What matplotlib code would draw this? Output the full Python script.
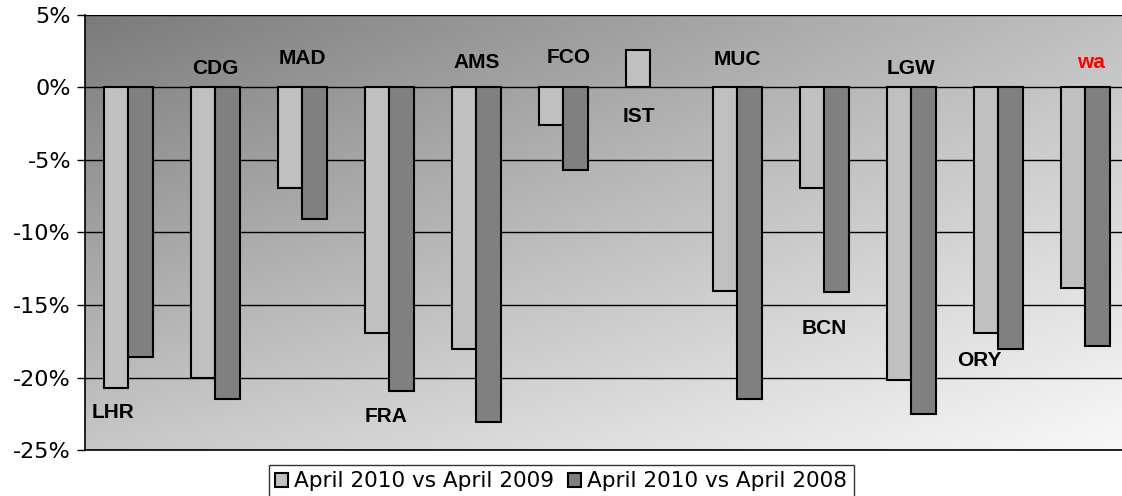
import numpy as np
import matplotlib.pyplot as plt
from matplotlib.ticker import FuncFormatter

# airport codes and year-on-year change (%)
airports = ['LHR', 'CDG', 'MAD', 'FRA', 'AMS', 'FCO', 'IST', 'MUC', 'BCN', 'LGW', 'ORY', 'wa']
vs_2009 = [-20.7, -20.0, -6.9, -16.9, -18.0, -2.6, 2.6, -14.0, -6.9, -20.2, -16.9, -13.8]
vs_2008 = [-18.6, -21.5, -9.1, -20.9, -23.1, -5.7, np.nan, -21.5, -14.1, -22.5, -18.0, -17.8]

# where each airport label sits (x offset from group centre, y in %)
label_dx = [-0.18, 0.0, 0.0, -0.04, 0.0, 0.06, -0.13, 0.0, 0.0, 0.0, -0.22, 0.06]
label_y = [-22.4, 1.3, 2.0, -22.7, 1.75, 2.1, -2.0, 1.9, -16.6, 1.3, -18.8, 1.75]

W, H = 1122, 496
fig = plt.figure(figsize=(W / 100, H / 100), dpi=100)
ax = fig.add_axes([85 / W, 46 / H, (W - 85) / W, 435 / H])

# diagonal grey gradient background, dark top-left to white bottom-right
gx, gy = np.meshgrid(np.linspace(0, 1, 300), np.linspace(0, 1, 150))
grad = 0.48 + 0.27 * gx + 0.30 * gy - 0.08 * gx * gy
ax.imshow(grad, cmap='gray', vmin=0, vmax=1, extent=(0, 1, 0, 1),
          transform=ax.transAxes, aspect='auto', zorder=0)

x = np.arange(len(airports))
bw = 0.28
ax.bar(x - bw / 2, vs_2009, bw, color='#c0c0c0', edgecolor='black', linewidth=1.5,
       label='April 2010 vs April 2009', zorder=3)
ax.bar(x + bw / 2, vs_2008, bw, color='#808080', edgecolor='black', linewidth=1.5,
       label='April 2010 vs April 2008', zorder=3)

for i, code in enumerate(airports):
    ax.text(x[i] + label_dx[i], label_y[i], code, ha='center', va='center',
            family='Liberation Sans', fontweight='bold', fontsize=15,
            color='red' if code == 'wa' else 'black', zorder=4)

ax.set_ylim(-25, 5)
ax.set_xlim(-0.5, 11.42)
ax.set_yticks(range(-25, 6, 5))
ax.yaxis.set_major_formatter(FuncFormatter(lambda v, p: f'{v:.0f}%'))
ax.tick_params(axis='y', labelsize=16, length=6, width=1, direction='out', pad=4)
ax.set_xticks([])
ax.grid(axis='y', color='black', linewidth=1, zorder=1)
ax.set_axisbelow(True)
for s in ['top', 'right']:
    ax.spines[s].set_visible(False)
ax.spines['left'].set_linewidth(1.2)
ax.spines['bottom'].set_linewidth(1.2)

leg = fig.legend(loc='lower center', bbox_to_anchor=(561 / W, -0.004), ncol=2,
                 fontsize=15.6, frameon=True, fancybox=False, edgecolor='black',
                 handlelength=0.6, handleheight=0.6, handletextpad=0.3,
                 columnspacing=0.6, borderpad=0.3, borderaxespad=0)
leg.get_frame().set_linewidth(1)

plt.savefig('out.png', dpi=100)
